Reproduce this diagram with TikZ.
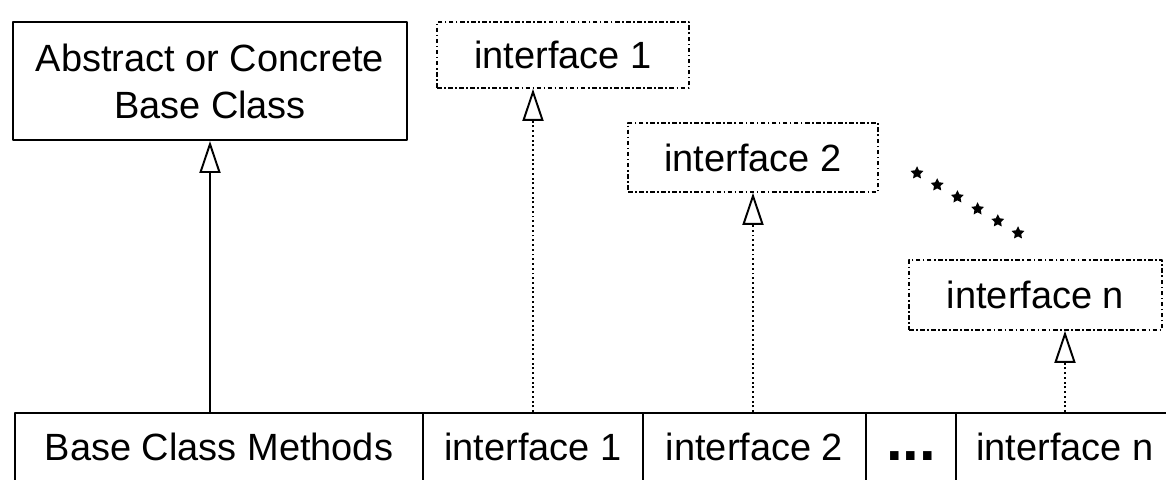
\documentclass[tikz,border=0pt]{standalone}
\usepackage{fontspec}
\setmainfont{Liberation Sans}
\usetikzlibrary{arrows.meta,shapes.geometric,calc}
\begin{document}
\begin{tikzpicture}[font=\fontsize{21.6}{26.8}\selectfont, line join=round,
		box/.style={draw, line width=1.1pt, align=center, inner sep=0pt},
		ibox/.style={draw, line width=1pt, dash pattern=on 2.6pt off 1.4pt on 0.9pt off 1.4pt, inner sep=0pt},
		cell/.style={draw, line width=1.1pt, inner sep=0pt, minimum height=1.36cm, text height=0.54cm, text depth=0pt},
		inh/.style={line width=1.1pt, -{Triangle[open, length=0.64cm, width=0.42cm, line width=1.1pt]}},
		inhdot/.style={inh, dash pattern=on 1.1pt off 1.6pt}]
	\useasboundingbox (0,0) rectangle (23.32,9.58);
	% class and interfaces
	\node[box, minimum width=7.88cm, minimum height=2.36cm] (base) at (4.20,7.96) {Abstract or Concrete\\Base Class};
	\node[ibox, minimum width=5.04cm, minimum height=1.32cm] (ifone) at (11.26,8.48) {interface 1};
	\node[ibox, minimum width=5.00cm, minimum height=1.38cm] (iftwo) at (15.06,6.43) {interface 2};
	\node[ibox, minimum width=5.06cm, minimum height=1.40cm] (ifn) at (20.71,3.68) {interface n};
	% the row of the derived class
	\node[cell, minimum width=8.16cm] (cellbase) at (4.38,0.64) {Base Class Methods};
	\node[cell, minimum width=4.40cm] (cellone) at (10.66,0.64) {interface 1};
	\node[cell, minimum width=4.46cm] (celltwo) at (15.09,0.64) {interface 2};
	\node[cell, minimum width=1.80cm, font=\fontsize{34}{34}\selectfont\bfseries] (celldots) at (18.22,0.64) {...};
	\node[cell, minimum width=4.36cm] (celln) at (21.30,0.64) {interface n};
	% arrows
	\draw[inh] (base.south |- cellbase.north) -- (base.south);
	\draw[inhdot] (cellone.north) -- (cellone.north |- ifone.south);
	\draw[inhdot] (iftwo.south |- celltwo.north) -- (iftwo.south);
	\draw[inhdot] (celln.north) -- (celln.north |- ifn.south);
	% dots between interface 2 and n
	\coordinate (dotsa) at (18.34,6.12);
	\coordinate (dotsb) at (20.36,4.92);
	\foreach \i in {0,...,5}
		\node[star, star points=5, star point ratio=2, fill, inner sep=0pt, minimum size=0.27cm] (dot\i) at ($(dotsa)!\i/5!(dotsb)$) {};
\end{tikzpicture}
\end{document}
